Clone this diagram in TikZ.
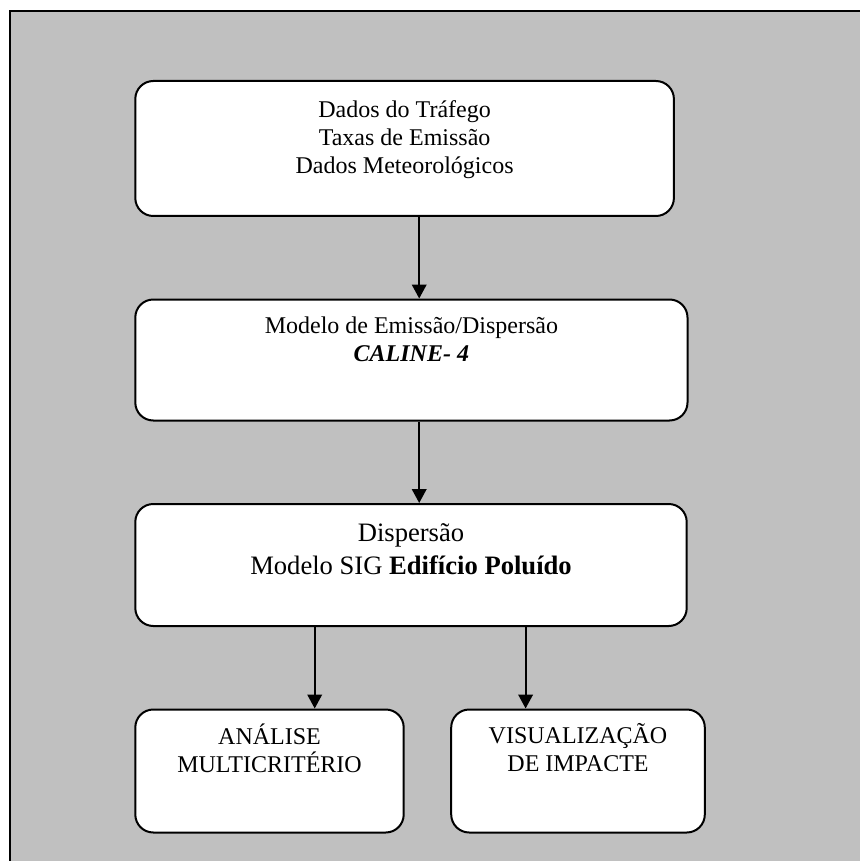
\documentclass[tikz,border=0pt]{standalone}
\usepackage{fontspec}
\setmainfont{Liberation Serif}
\usetikzlibrary{positioning,arrows.meta}
\definecolor{fundo}{HTML}{C0C0C0}

\begin{document}
\begin{tikzpicture}[x=1pt,y=1pt,
  caixa/.style = {draw, line width=1pt, fill=white, rounded corners=9pt, inner sep=0pt},
  texto/.style = {anchor=north, align=center, inner sep=0pt, font=\fontsize{12}{14}\selectfont},
  seta/.style = {-{Triangle[length=7pt,width=7.3pt]}, line width=1pt},
  node distance={40.75pt}]
\useasboundingbox (0,0) rectangle (430,-430.5);
\draw[fill=fundo, line width=1pt] (5,-5.5) rectangle (440,-440);
\node[caixa, minimum width=269.3pt, minimum height=67.5pt, anchor=north west] (1) at (67.15,-40) {};
\node[caixa, minimum width=276.1pt, minimum height=60.5pt] (2) [below=of 1.south west, anchor=north west] {};
\node[caixa, minimum width=275.7pt, minimum height=61pt] (3) [below=of 2.south west, anchor=north west] {};
\node[caixa, minimum width=134.2pt, minimum height=61.5pt] (4) [below=of 3.south west, anchor=north west] {};
\node[caixa, minimum width=126.8pt, minimum height=61.5pt] (5) [right=22.75pt of 4.north east, anchor=north west] {};
\node[texto] (1t) at ([yshift=-10pt]1.north) {Dados do Tráfego\\Taxas de Emissão\\Dados Meteorológicos};
\node[texto] (2t) at ([yshift=-9pt]2.north) {Modelo de Emissão/Dispersão\\\textbf{\textit{CALINE- 4}}};
\node[texto, font=\fontsize{13.3}{16.5}\selectfont] (3t) at ([yshift=-10pt]3.north) {Dispersão\\Modelo SIG \textbf{Edifício Poluído}};
\node[texto] (4t) at ([yshift=-7.5pt]4.north) {ANÁLISE\\MULTICRITÉRIO};
\node[texto] (5t) at ([yshift=-7.5pt]5.north) {VISUALIZAÇÃO\\DE IMPACTE};
\draw[seta] ([xshift=7.3pt]1.south) -- ([xshift=7.3pt]1.south |- 2.north);
\draw[seta] ([xshift=3.9pt]2.south) -- ([xshift=3.9pt]2.south |- 3.north);
\draw[seta] ([xshift=22.6pt]4.north |- 3.south) -- ([xshift=22.6pt]4.north);
\draw[seta] ([xshift=-26.2pt]5.north |- 3.south) -- ([xshift=-26.2pt]5.north);
\end{tikzpicture}
\end{document}
